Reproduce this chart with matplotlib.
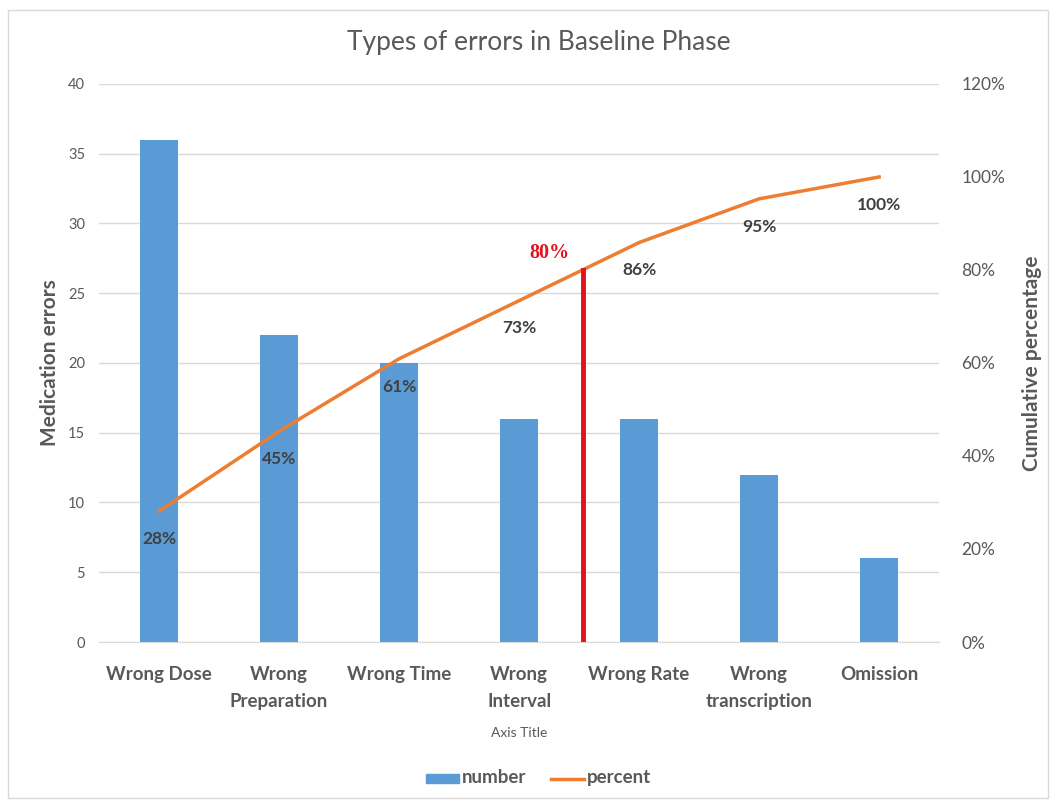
import matplotlib.pyplot as plt
from matplotlib.patches import Rectangle
from matplotlib.lines import Line2D
from matplotlib.ticker import FuncFormatter

plt.rcParams['font.family'] = ['Lato', 'DejaVu Sans']

categories = ['Wrong Dose', 'Wrong\nPreparation', 'Wrong Time', 'Wrong\nInterval',
              'Wrong Rate', 'Wrong\ntranscription', 'Omission']
number = [36, 22, 20, 16, 16, 12, 6]
percent = [0.28125, 0.453, 0.609, 0.734, 0.859, 0.953, 1.0]
percent_labels = ['28%', '45%', '61%', '73%', '86%', '95%', '100%']
cutoff_x = 3.53
cutoff_pct = 0.80

blue = '#5b9bd5'
orange = '#ed7d31'
red = '#e3121b'
gray = '#595959'

fig = plt.figure(figsize=(10.56, 8.02), dpi=100)
ax = fig.add_axes([0.0938, 0.1995, 0.7955, 0.6958])
ax2 = ax.twinx()

x = list(range(len(categories)))
ax.bar(x, number, width=0.32, color=blue, zorder=2)
ax.set_xlim(-0.5, len(categories) - 0.5)
ax.set_ylim(0, 40)
ax.set_yticks(range(0, 41, 5))
ax.grid(axis='y', color='#d9d9d9', linewidth=1, zorder=0)
ax.set_axisbelow(True)
ax.set_xticks(x)
ax.set_xticklabels(categories, fontsize=13.5, fontweight='bold', color=gray,
                   linespacing=1.75)
ax.tick_params(axis='x', length=0, pad=17)
ax.tick_params(axis='y', length=0, labelsize=10.5, labelcolor=gray, pad=10)
for s in ['top', 'left', 'right']:
    ax.spines[s].set_visible(False)
ax.spines['bottom'].set_color('#d9d9d9')
ax.set_ylabel('Medication errors', fontsize=15, fontweight='bold', color=gray, labelpad=6)
ax.set_xlabel('Axis Title', fontsize=10, color=gray, labelpad=12)

ax2.plot(x, percent, color=orange, linewidth=2.5, zorder=3)
ax2.set_ylim(0, 1.2)
ax2.set_yticks([0, 0.2, 0.4, 0.6, 0.8, 1.0, 1.2])
ax2.yaxis.set_major_formatter(FuncFormatter(lambda v, p: '%d%%' % round(v * 100)))
ax2.tick_params(axis='y', length=0, labelsize=12.5, labelcolor=gray, pad=16)
for s in ['top', 'left', 'right', 'bottom']:
    ax2.spines[s].set_visible(False)
ax2.set_ylabel('Cumulative percentage', fontsize=15, fontweight='bold', color=gray, labelpad=12)

for xi, p, lab in zip(x, percent, percent_labels):
    ax2.annotate(lab, (xi, p), xytext=(0, -20), textcoords='offset points',
                 ha='center', va='center', fontsize=12.5, fontweight='bold', color='#404040')

ax2.plot([cutoff_x, cutoff_x], [0, cutoff_pct], color=red, linewidth=3.5, zorder=4)
ax2.annotate('80%', (cutoff_x, cutoff_pct), xytext=(-24, 12), textcoords='offset points',
             ha='center', va='center', fontsize=14.5, fontweight='bold', color=red,
             family='Liberation Serif')

fig.suptitle('Types of errors in Baseline Phase', x=0.51, y=0.962, fontsize=19, color=gray)

handles = [Rectangle((0, 0), 1, 1, color=blue),
           Line2D([0], [0], color=orange, linewidth=2.5)]
leg = fig.legend(handles, ['number', 'percent'], loc='center', bbox_to_anchor=(0.51, 0.03),
                 ncol=2, frameon=False, handlelength=2.4, handletextpad=0.2,
                 columnspacing=1.8)
for t in leg.get_texts():
    t.set_fontsize(13.5)
    t.set_fontweight('bold')
    t.set_color(gray)

fig.patches.append(Rectangle((0.008, 0.005), 0.984, 0.982, transform=fig.transFigure,
                             fill=False, edgecolor='#d9d9d9', linewidth=1))

fig.savefig('out.png', dpi=100)
